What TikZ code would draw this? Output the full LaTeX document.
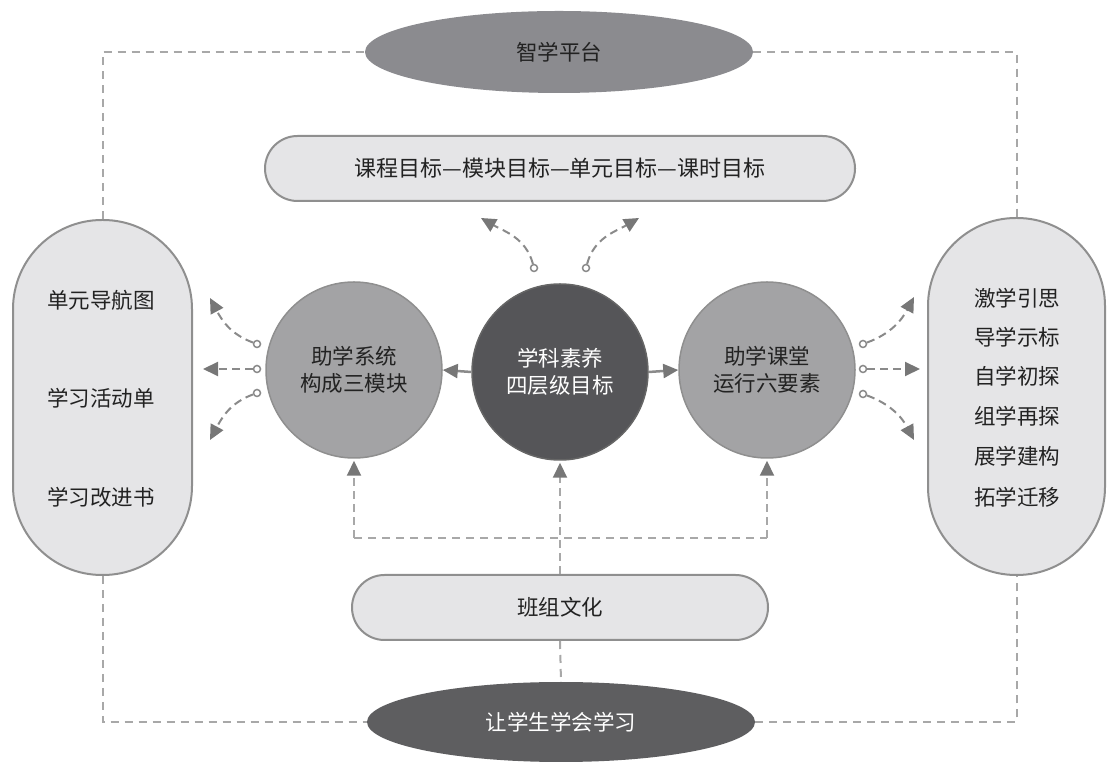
\documentclass[tikz,border=0pt]{standalone}
\usepackage{fontspec}
\setmainfont{Noto Sans CJK SC}
\usetikzlibrary{arrows.meta,shapes.geometric}
\definecolor{lightfill}{HTML}{E5E5E7}
\definecolor{borderc}{HTML}{8F8F8F}
\definecolor{topfill}{HTML}{8B8B8F}
\definecolor{sidefill}{HTML}{A3A3A5}
\definecolor{centerfill}{HTML}{555558}
\definecolor{botfill}{HTML}{5E5E60}
\definecolor{dashc}{HTML}{A8A8A8}
\definecolor{connc}{HTML}{8A8A8A}
\definecolor{tipc}{HTML}{777777}
\definecolor{textc}{HTML}{222222}
\begin{document}
\begin{tikzpicture}[x=1pt,y=1pt,
  txt/.style={font=\fontsize{21.5}{27}\selectfont, text=textc, align=center, inner sep=0pt},
  pillbox/.style={draw=borderc, line width=2pt, fill=lightfill, rectangle},
  bigell/.style={ellipse, minimum width=388pt, minimum height=82pt, inner sep=0pt},
  bigcirc/.style={circle, minimum size=176pt, inner sep=0pt, line width=1.5pt},
  frame/.style={draw=dashc, line width=2pt, dash pattern=on 8pt off 6pt},
  conn/.style={draw=connc, line width=2pt, dash pattern=on 8pt off 5pt, -{Triangle[length=15pt,width=14pt,fill=tipc,color=tipc]}},
  solidarr/.style={draw=connc, line width=2.5pt, -{Triangle[length=15pt,width=14pt,fill=tipc,color=tipc]}},
  smallc/.style={circle, draw=connc, line width=1.5pt, fill=white, minimum size=7pt, inner sep=0pt}
]
\useasboundingbox (0,0) rectangle (1113,765);

% frame ellipses
\node[bigell, fill=topfill] (topE) at (559,713) {};
\node[txt] at (topE.center) {智学平台};
\node[bigell, fill=botfill, minimum height=80pt] (botE) at (561,43) {};
\node[txt, text=white] at (botE.center) {让学生学会学习};

% pills
\node[pillbox, rounded corners=32.5pt, minimum width=590pt, minimum height=65pt] (goal) at (560,596.5) {};
\node[txt, font=\fontsize{22}{27}\selectfont] at (goal.center) {课程目标—模块目标—单元目标—课时目标};
\node[pillbox, rounded corners=32.5pt, minimum width=416pt, minimum height=65pt] (bj) at (560,157.5) {};
\node[txt] at (bj.center) {班组文化};

\node[pillbox, rounded corners=89pt, minimum width=179pt, minimum height=355pt] (lp) at (102.5,367.5) {};
\node[txt] (lp1) at (101,465) {单元导航图};
\node[txt] (lp2) at (101,367) {学习活动单};
\node[txt] (lp3) at (101,268) {学习改进书};

\node[pillbox, rounded corners=88pt, minimum width=177pt, minimum height=357pt] (rp) at (1016.5,368.5) {};
\node[txt] (rp1) at (1017,467) {激学引思};
\node[txt] (rp2) at (1017,428) {导学示标};
\node[txt] (rp3) at (1017,389) {自学初探};
\node[txt] (rp4) at (1017,349) {组学再探};
\node[txt] (rp5) at (1017,309) {展学建构};
\node[txt] (rp6) at (1017,268) {拓学迁移};

% circles
\node[bigcirc, draw=borderc, fill=sidefill] (lc) at (354,395) {};
\node[txt] at (lc.center) {助学系统\\构成三模块};
\node[bigcirc, draw=gray!80!black, fill=centerfill] (cc) at (560,393) {};
\node[txt, text=white] at (cc.center) {学科素养\\四层级目标};
\node[bigcirc, draw=borderc, fill=sidefill] (rc) at (767,395) {};
\node[txt] at (rc.center) {助学课堂\\运行六要素};

% outer dashed frame
\draw[frame] (lp.north) |- (topE.west);
\draw[frame] (topE.east) -| (rp.north);
\draw[frame] (lp.south) |- (botE.west);
\draw[frame] (botE.east) -| (rp.south);
\draw[frame] (bj.south) -- (botE.north);

% solid arrows
\draw[solidarr] (cc.west) -- (lc.east);
\draw[solidarr] (cc.east) -- (rc.west);

% bracket below circles
\coordinate (bl) at (lc.south |- 0,227);
\coordinate (br) at (rc.south |- 0,227);
\draw[frame] (bl) -- (br);
\draw[conn, draw=dashc, shorten >=2pt] (bl) -- (lc.south);
\draw[conn, draw=dashc, shorten >=2pt] (br) -- (rc.south);
\draw[conn, draw=dashc, shorten >=2pt] (bj.north) -- (cc.south);

% small dashed arrows, left
\node[smallc] (l1) at (257,421) {};
\node[smallc] (l2) at (257,396) {};
\node[smallc] (l3) at (257,372) {};
\coordinate (l1t) at (210,467);
\coordinate (l2t) at (203,396);
\coordinate (l3t) at (210,325);
\draw[conn] (l1) to[out=160,in=-62] (l1t);
\draw[conn] (l2) -- (l2t);
\draw[conn] (l3) to[out=200,in=62] (l3t);

% small dashed arrows, right
\node[smallc] (r1) at (863,421) {};
\node[smallc] (r2) at (863,396) {};
\node[smallc] (r3) at (863,371) {};
\coordinate (r1t) at (914,468);
\coordinate (r2t) at (920,396);
\coordinate (r3t) at (914,325);
\draw[conn] (r1) to[out=20,in=-118] (r1t);
\draw[conn] (r2) -- (r2t);
\draw[conn] (r3) to[out=-20,in=118] (r3t);

% small dashed arrows, top
\node[smallc] (t1) at (534,497) {};
\node[smallc] (t2) at (586,497) {};
\coordinate (t1t) at (481,547);
\coordinate (t2t) at (639,547);
\draw[conn] (t1) to[out=105,in=-30] (t1t);
\draw[conn] (t2) to[out=75,in=210] (t2t);
\end{tikzpicture}
\end{document}
